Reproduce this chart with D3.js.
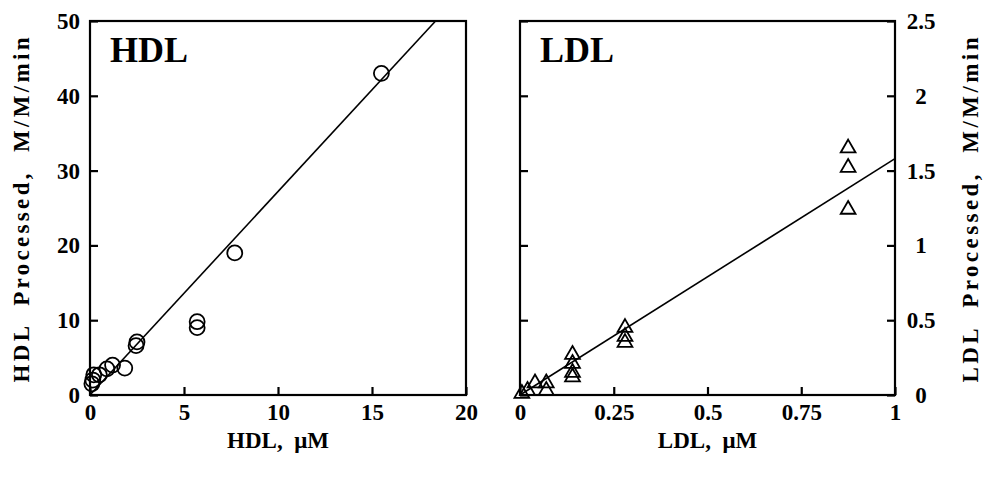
<!DOCTYPE html>
<html><head><meta charset="utf-8">
<script src="https://cdn.jsdelivr.net/npm/d3@7"></script>
<style>body{margin:0;background:#fff}svg{display:block}text{font-family:"Liberation Serif","Times New Roman",serif;font-weight:bold;fill:#000}</style>
</head><body><svg id="c" width="986" height="478"></svg>
<script>
const hdlX = [0.1, 0.15, 0.2, 0.5, 0.9, 1.2, 1.85, 2.45, 2.5, 5.7, 5.7, 7.7, 15.5];
const hdlY = [1.5, 2.0, 2.7, 2.7, 3.5, 4.0, 3.6, 6.6, 7.1, 9.8, 9.0, 19.0, 43.0];
const hdlFit = [0, 2.72];
const ldlX = [0.005, 0.02, 0.04, 0.07, 0.07, 0.14, 0.14, 0.14, 0.14, 0.28, 0.28, 0.28, 0.875, 0.875, 0.875];
const ldlY = [0.01, 0.03, 0.08, 0.08, 0.03, 0.27, 0.21, 0.15, 0.12, 0.45, 0.39, 0.35, 1.65, 1.52, 1.24];
const ldlFit = [0, 1.58];
const hdlXTicks = [0, 5, 10, 15, 20];
const hdlYTicks = [0, 10, 20, 30, 40, 50];
const ldlXTicks = [0, 0.25, 0.5, 0.75, 1];
const ldlYTicks = [0, 0.5, 1, 1.5, 2, 2.5];

const svg = d3.select("#c");
const plotTop = 21, plotBottom = 395;

function panel(o) {
  const x = d3.scaleLinear().domain(o.xd).range(o.xr);
  const y = d3.scaleLinear().domain(o.yd).range([plotBottom, plotTop]);
  const g = svg.append("g");
  const x1 = o.xd[1];
  let x2 = x1, y2 = o.fit[0] + o.fit[1]*x1;
  if (y2 > o.yd[1]) { x2 = (o.yd[1]-o.fit[0])/o.fit[1]; y2 = o.yd[1]; }
  g.append("line").attr("x1", x(0)).attr("y1", y(o.fit[0])).attr("x2", x(x2)).attr("y2", y(y2))
    .attr("stroke", "#000").attr("stroke-width", 1.6);
  o.px.forEach((v, i) => {
    if (o.shape === "circle") {
      g.append("circle").attr("cx", x(v)).attr("cy", y(o.py[i])).attr("r", 7.5)
        .attr("fill", "none").attr("stroke", "#000").attr("stroke-width", 1.8);
    } else {
      g.append("path").attr("d", d3.symbol(d3.symbolTriangle, 95)())
        .attr("transform", `translate(${x(v)},${y(o.py[i])})`)
        .attr("fill", "none").attr("stroke", "#000").attr("stroke-width", 1.8);
    }
  });
  g.append("rect").attr("x", o.xr[0]).attr("y", plotTop).attr("width", o.xr[1]-o.xr[0]).attr("height", plotBottom-plotTop)
    .attr("fill", "none").attr("stroke", "#000").attr("stroke-width", 2.2);
  const ax = g.append("g").attr("transform", `translate(0,${plotBottom})`)
    .call(d3.axisTop(x).tickValues(o.xt).tickSize(8).tickFormat(""));
  const axl = g.append("g").attr("transform", `translate(0,${plotBottom})`)
    .call(d3.axisBottom(x).tickValues(o.xt).tickSize(0).tickPadding(9).tickFormat(d => String(d)));
  const ay = g.append("g").attr("transform", `translate(${o.xr[0]},0)`)
    .call(d3.axisRight(y).tickValues(o.yt).tickSize(8).tickFormat(""));
  [ax, axl, ay].forEach(a => { a.select(".domain").remove(); a.selectAll("line").attr("stroke-width", 2.2); });
  axl.selectAll("text").style("font-size", "23px").attr("font-family", null);
  if (o.rightTicks) {
    const ar = g.append("g").attr("transform", `translate(${o.xr[1]},0)`)
      .call(d3.axisLeft(y).tickValues(o.yt).tickSize(8).tickFormat(""));
    ar.select(".domain").remove(); ar.selectAll("line").attr("stroke-width", 2.2);
  }
  const lab = g.append("g");
  o.yt.forEach(t => {
    lab.append("text").attr("x", o.ylx).attr("y", y(t)).attr("dy", "0.35em")
      .attr("text-anchor", o.yanchor).style("font-size", "23px").text(String(t));
  });
  g.append("text").attr("x", o.xr[0]+20).attr("y", 62).style("font-size", "36px").text(o.name);
  g.append("text").attr("x", (o.xr[0]+o.xr[1])/2).attr("y", 448).attr("text-anchor", "middle")
    .style("font-size", "23px").style("white-space", "pre").text(o.name + ",  \u03bcM");
  g.append("text").attr("transform", `translate(${o.ytx},${(plotTop+plotBottom)/2 + 2}) rotate(-90)`)
    .attr("text-anchor", "middle").style("font-size", "23px").style("white-space", "pre")
    .attr("textLength", 345).attr("lengthAdjust", "spacing")
    .text(o.name + "  Processed,  M/M/min");
}

panel({name: "HDL", xd: [0, 20], xr: [90, 466], yd: [0, 50], xt: hdlXTicks, yt: hdlYTicks,
  px: hdlX, py: hdlY, fit: hdlFit, shape: "circle", ylx: 80, yanchor: "end", ytx: 29, rightTicks: false});
panel({name: "LDL", xd: [0, 1], xr: [520, 895], yd: [0, 2.5], xt: ldlXTicks, yt: ldlYTicks,
  px: ldlX, py: ldlY, fit: ldlFit, shape: "tri", ylx: 921, yanchor: "middle", ytx: 978, rightTicks: true});
</script></body></html>
